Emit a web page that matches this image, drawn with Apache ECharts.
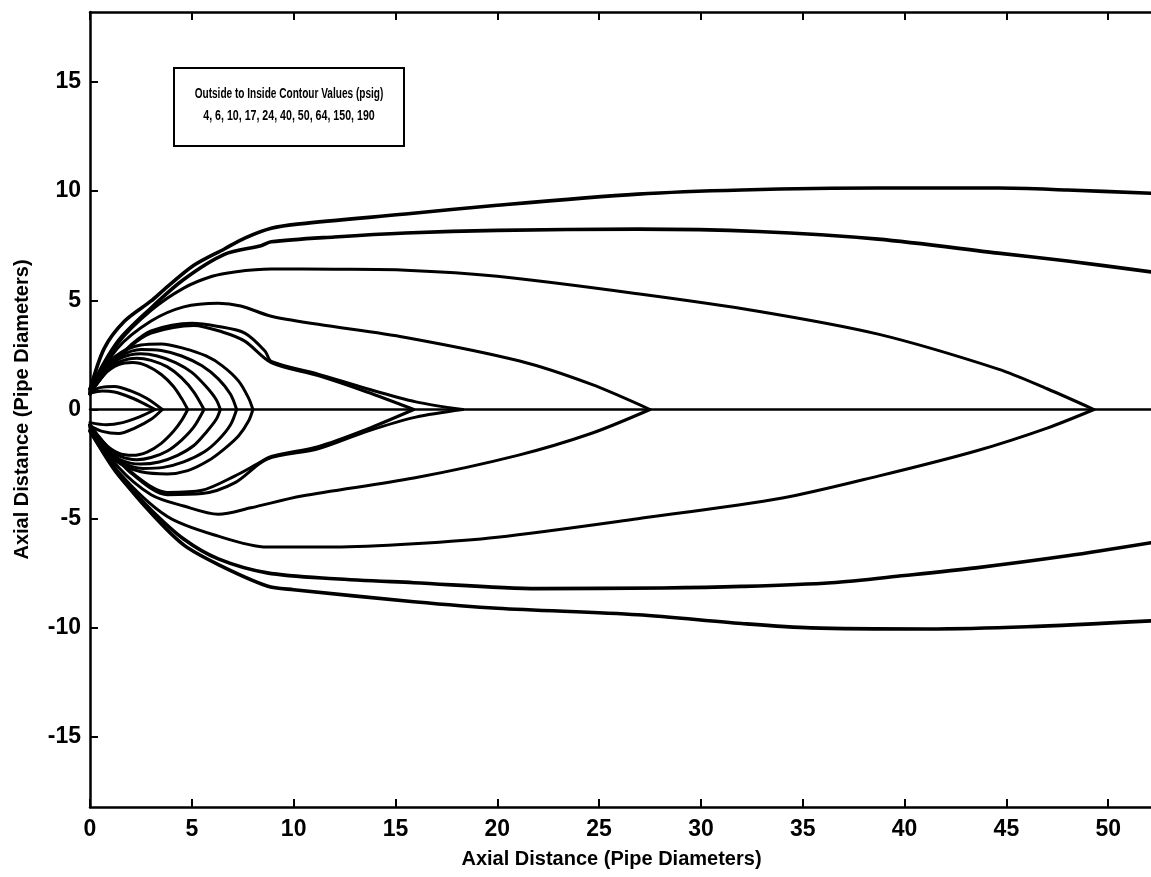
<!DOCTYPE html>
<html>
<head>
<meta charset="utf-8">
<script src="https://cdn.jsdelivr.net/npm/echarts@6/dist/echarts.min.js"></script>
<style>
html,body{margin:0;padding:0;background:#fff;}
#chart{width:1151px;height:877px;}
</style>
</head>
<body>
<div id="chart"></div>
<script>
// ---- Data (x = axial distance, y = lateral distance, pipe diameters) ----
const xTicks = [0, 5, 10, 15, 20, 25, 30, 35, 40, 45, 50];
const yTicks = [-15, -10, -5, 0, 5, 10, 15];
const legendLine1 = 'Outside to Inside Contour Values (psig)';
const legendLine2 = '4, 6, 10, 17, 24, 40, 50, 64, 150, 190';

// 4 psig (outermost, runs past right edge)
const c4Upper = [[0,0.9],[0.7,2.8],[1.7,4.05],[3.0,4.97],[3.65,5.5],[5.1,6.6],[6.6,7.35],[7.6,7.85],[8.9,8.3],[10.3,8.5],[15.5,8.95],[20,9.35],[26.9,9.86],[32,10.05],[38.7,10.14],[44.6,10.14],[48,10.05],[52.1,9.9]];
const c4Lower = [[0,-1.0],[1.35,-2.9],[3.0,-4.74],[4.6,-6.2],[6.3,-7.1],[8.7,-8.08],[10,-8.25],[15.9,-8.8],[20,-9.1],[26.9,-9.4],[32,-9.8],[35.4,-10.0],[41.1,-10.05],[46,-9.95],[52.1,-9.68]];
// 6 psig
const c6Upper = [[0,0.95],[1.35,3.1],[3.0,4.65],[4.6,5.95],[6.6,7.1],[8.4,7.5],[8.9,7.68],[12,7.9],[15.5,8.08],[20,8.2],[26.9,8.26],[32.8,8.15],[38.7,7.8],[44.6,7.16],[48,6.8],[52.1,6.3]];
const c6Lower = [[0,-0.95],[1.35,-2.95],[3,-4.6],[4.6,-5.93],[6.3,-6.84],[8.7,-7.48],[12,-7.75],[15.9,-7.93],[22,-8.2],[28.1,-8.17],[32,-8.1],[36.4,-7.93],[40,-7.6],[43.5,-7.25],[48,-6.7],[52.1,-6.1]];
// 10 psig
const c10Upper = [[0,0.85],[1.35,3.0],[3.0,4.54],[4.6,5.56],[6.0,6.1],[7.1,6.3],[8.9,6.43],[12,6.42],[15.5,6.38],[20,6.1],[26.9,5.3],[32.8,4.5],[38.7,3.45],[44.6,1.85],[47,0.95],[49.3,0]];
const c10Lower = [[0,-0.85],[1.35,-2.8],[3.8,-4.9],[6.3,-5.8],[8.7,-6.3],[12,-6.3],[15.9,-6.15],[20,-5.85],[26.9,-5.0],[34,-4.05],[38.7,-3.05],[43.5,-1.9],[47,-0.85],[49.3,0]];
// 17 psig
const c17Upper = [[0,0.8],[1.35,2.8],[3.0,4.05],[4.6,4.7],[6.3,4.87],[7.4,4.74],[8.9,4.27],[11.2,3.9],[15.5,3.3],[21.1,2.22],[24.6,1.16],[27.5,0]];
const c17Lower = [[0,-0.8],[1.35,-2.6],[3.0,-3.9],[4.6,-4.42],[6.3,-4.8],[7.9,-4.5],[10.4,-3.96],[15.9,-3.14],[21,-2.1],[24.6,-1.1],[27.5,0]];
// 24 psig
const c24Upper = [[0,0.75],[1.0,2.0],[2.0,2.95],[3.0,3.6],[5.0,3.95],[6.3,3.8],[7.6,3.5],[8.6,2.67],[8.9,2.2],[11.2,1.62],[13.6,0.95],[16,0.35],[18.3,0]];
const c24Lower = [[0,-0.75],[1.0,-1.9],[2.0,-2.9],[3.8,-3.9],[5.5,-3.85],[7.1,-3.36],[8.7,-2.27],[11.2,-1.8],[13.6,-1.0],[16,-0.35],[18.3,0]];
// 40 psig
const c40Upper = [[0,0.75],[1.0,1.95],[2.0,2.9],[3.0,3.5],[5.1,3.85],[6.5,3.55],[7.6,3.13],[8.9,2.15],[11.2,1.55],[13.6,0.8],[15.9,0]];
const c40Lower = [[0,-0.75],[1,-1.85],[2,-2.85],[3.8,-3.8],[5.5,-3.7],[7.1,-3.05],[8.2,-2.5],[8.9,-2.15],[11.2,-1.7],[13.6,-0.9],[15.9,0]];
// 50 psig
const c50Upper = [[0,0.7],[0.7,1.9],[1.5,2.6],[2.5,2.95],[3.5,3.0],[4.6,2.8],[5.7,2.45],[6.5,2.0],[7.3,1.3],[7.8,0.5],[8.0,0]];
const c50Lower = [[0,-0.7],[0.7,-1.8],[1.5,-2.5],[2.5,-2.85],[3.8,-2.95],[4.8,-2.8],[5.8,-2.35],[6.6,-1.8],[7.3,-1.2],[7.8,-0.5],[8.0,0]];
// 64 psig (three closely nested branches)
const c64aUpper = [[0,0.7],[0.7,1.8],[1.5,2.45],[2.5,2.75],[3.5,2.7],[4.5,2.45],[5.5,2.0],[6.3,1.4],[6.9,0.7],[7.2,0]];
const c64aLower = [[0,-0.7],[0.7,-1.75],[1.5,-2.4],[2.6,-2.7],[3.6,-2.65],[4.6,-2.4],[5.6,-1.95],[6.3,-1.4],[6.9,-0.7],[7.2,0]];
const c64bUpper = [[0,0.7],[0.7,1.75],[1.5,2.35],[2.5,2.55],[3.3,2.45],[4.2,2.15],[5.0,1.7],[5.7,1.05],[6.2,0.45],[6.4,0]];
const c64bLower = [[0,-0.7],[0.7,-1.7],[1.5,-2.3],[2.5,-2.5],[3.4,-2.4],[4.3,-2.1],[5.1,-1.65],[5.7,-1.05],[6.2,-0.45],[6.4,0]];
const c64cUpper = [[0,0.7],[0.7,1.7],[1.5,2.2],[2.3,2.35],[3.0,2.25],[3.8,1.95],[4.5,1.45],[5.1,0.8],[5.6,0]];
const c64cLower = [[0,-0.7],[0.7,-1.65],[1.5,-2.15],[2.3,-2.3],[3.0,-2.2],[3.8,-1.9],[4.5,-1.4],[5.1,-0.8],[5.6,0]];
// 150 psig
const c150Upper = [[0,0.7],[0.7,1.6],[1.4,2.05],[2.1,2.15],[2.8,2.0],[3.5,1.6],[4.1,1.05],[4.5,0.5],[4.8,0]];
const c150Lower = [[0,-0.7],[0.7,-1.55],[1.4,-2.0],[2.1,-2.1],[2.8,-1.95],[3.5,-1.55],[4.1,-1.0],[4.5,-0.5],[4.8,0]];
// 190 psig (small lenses near the pipe exit)
const c190aUpper = [[0,0.8],[0.5,1.0],[1.2,1.05],[2.0,0.85],[2.8,0.5],[3.55,0]];
const c190aLower = [[0,-0.75],[0.6,-1.0],[1.4,-1.1],[2.2,-0.85],[3.0,-0.45],[3.55,0]];
const c190bUpper = [[0,0.75],[0.6,0.85],[1.2,0.8],[2.0,0.55],[2.7,0.25],[3.2,0]];
const c190bLower = [[0,-0.6],[0.8,-0.7],[1.6,-0.6],[2.4,-0.35],[3.2,0]];
// centre line
const centerLine = [[0,0],[52.1,0]];

const X_MIN = 0, X_MAX = 52.1, Y_MIN = -18.2, Y_MAX = 18.2;

// ---- Build series ----
const outerBranches = [c4Upper, c4Lower, c6Upper, c6Lower];
const innerBranches = [
  c10Upper, c10Lower, c17Upper, c17Lower, c24Upper, c24Lower, c40Upper, c40Lower,
  c50Upper, c50Lower, c64aUpper, c64aLower, c64bUpper, c64bLower, c64cUpper, c64cLower,
  c150Upper, c150Lower, c190aUpper, c190aLower, c190bUpper, c190bLower
];
const lineSeries = (data, w, smooth) => ({
  type: 'line', data: data, showSymbol: false, symbol: 'none', animation: false,
  smooth: smooth,
  lineStyle: { color: '#000', width: w, join: 'round', cap: 'round' }, z: 3
});
const series = [];
outerBranches.forEach(b => series.push(lineSeries(b, 3.6, 0.3)));
innerBranches.forEach(b => series.push(lineSeries(b, 3, 0.3)));
series.push(lineSeries(centerLine, 2.5, false));

const font = '"Liberation Sans", Arial, sans-serif';
const labelStyle = { color: '#000', fontFamily: font, fontWeight: 'bold', fontSize: 23 };

const chart = echarts.init(document.getElementById('chart'), null, { renderer: 'canvas' });
chart.setOption({
  backgroundColor: '#fff',
  animation: false,
  grid: { left: 90, right: 0, top: 12, bottom: 70, containLabel: false },
  xAxis: [{
    type: 'value', min: X_MIN, max: X_MAX, position: 'bottom',
    name: 'Axial Distance (Pipe Diameters)', nameLocation: 'middle', nameGap: 42,
    nameTextStyle: { color: '#000', fontFamily: font, fontWeight: 'bold', fontSize: 20, padding: [0, 18, 0, 0] },
    axisLine: { show: true, onZero: false, lineStyle: { color: '#000', width: 2.5 } },
    axisTick: { show: true, inside: true, length: 8, customValues: xTicks, lineStyle: { color: '#000', width: 2 } },
    axisLabel: Object.assign({ margin: 11, customValues: xTicks, formatter: v => String(v) }, labelStyle),
    splitLine: { show: false }
  }, {
    type: 'value', min: X_MIN, max: X_MAX, position: 'top',
    axisLine: { show: true, onZero: false, lineStyle: { color: '#000', width: 2.5 } },
    axisTick: { show: true, inside: true, length: 8, customValues: xTicks, lineStyle: { color: '#000', width: 2 } },
    axisLabel: { show: false },
    splitLine: { show: false }
  }],
  yAxis: [{
    type: 'value', min: Y_MIN, max: Y_MAX, position: 'left',
    name: 'Axial Distance (Pipe Diameters)', nameLocation: 'middle', nameGap: 58, nameRotate: 90,
    nameTextStyle: { color: '#000', fontFamily: font, fontWeight: 'bold', fontSize: 20 },
    axisLine: { show: true, onZero: false, lineStyle: { color: '#000', width: 2.5 } },
    axisTick: { show: true, inside: true, length: 8, customValues: yTicks, lineStyle: { color: '#000', width: 2 } },
    axisLabel: Object.assign({ margin: 9, customValues: yTicks, formatter: v => String(v) }, labelStyle),
    splitLine: { show: false }
  }],
  series: series,
  graphic: [{
    type: 'group', left: 173, top: 67,
    children: [{
      type: 'rect', shape: { x: 0, y: 0, width: 230, height: 78 },
      style: { fill: '#fff', stroke: '#000', lineWidth: 2 }
    }, {
      type: 'text', x: 115, y: 26, scaleX: 0.72,
      style: { text: legendLine1, fill: '#000', font: 'bold 14px "Liberation Sans", Arial, sans-serif', textAlign: 'center', textVerticalAlign: 'middle' }
    }, {
      type: 'text', x: 115, y: 48, scaleX: 0.76,
      style: { text: legendLine2, fill: '#000', font: 'bold 14px "Liberation Sans", Arial, sans-serif', textAlign: 'center', textVerticalAlign: 'middle' }
    }]
  }]
});
</script>
</body>
</html>
